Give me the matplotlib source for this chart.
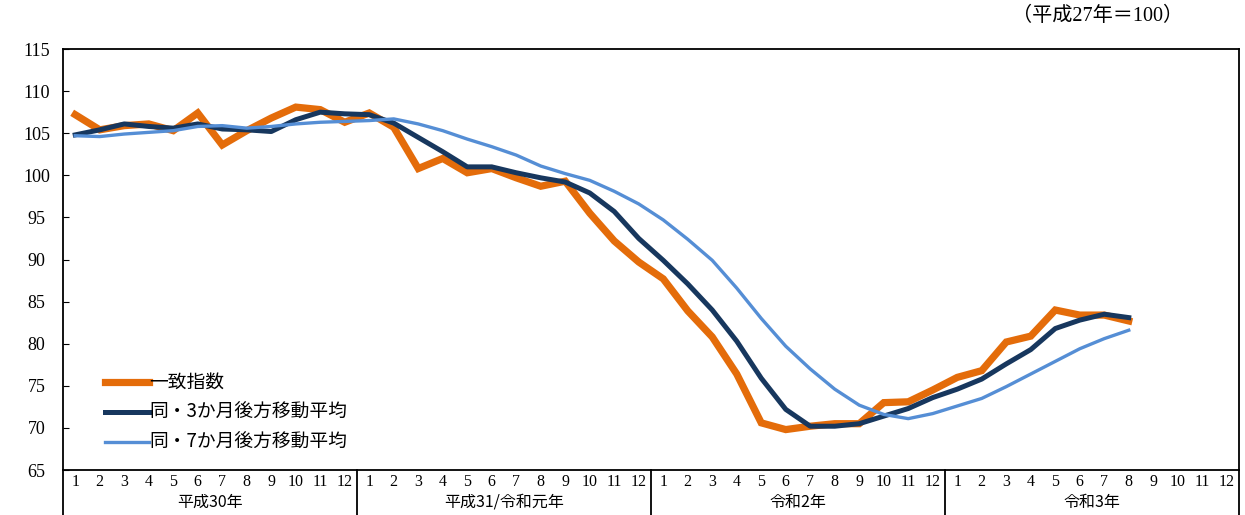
import numpy as np
import matplotlib.pyplot as plt
import matplotlib.transforms as mtransforms

plt.rcParams['font.family'] = ['Liberation Serif', 'Noto Sans CJK JP', 'DejaVu Sans']

# Months Jan 2018 (平成30年) .. Aug 2021 (令和3年)
coincident = [107.2, 105.4, 105.9, 106.1, 105.3, 107.4, 103.6, 105.3, 106.8, 108.1, 107.8, 106.3,
              107.4, 105.7, 100.8, 102.0, 100.3, 100.8, 99.7, 98.7, 99.3, 95.5, 92.2, 89.7,
              87.7, 83.9, 80.8, 76.4, 70.6, 69.8, 70.2, 70.5, 70.5, 73.0, 73.1, 74.5,
              76.0, 76.8, 80.2, 80.9, 84.0, 83.4, 83.4, 82.7]
ma3 = [104.8, 105.4, 106.1, 105.8, 105.6, 106.1, 105.5, 105.4, 105.2, 106.6, 107.5, 107.3,
       107.2, 106.2, 104.5, 102.8, 101.0, 101.0, 100.3, 99.7, 99.2, 97.9, 95.7, 92.5,
       89.9, 87.1, 84.0, 80.3, 75.9, 72.2, 70.2, 70.2, 70.5, 71.4, 72.3, 73.6,
       74.6, 75.8, 77.6, 79.3, 81.8, 82.8, 83.5, 83.1]
ma7 = [104.7, 104.6, 104.9, 105.1, 105.3, 105.8, 105.9, 105.6, 105.8, 106.1, 106.3, 106.4,
       106.5, 106.7, 106.1, 105.3, 104.3, 103.4, 102.4, 101.1, 100.2, 99.4, 98.1, 96.6,
       94.7, 92.4, 89.9, 86.6, 83.0, 79.7, 77.0, 74.6, 72.7, 71.6, 71.1, 71.7,
       72.6, 73.5, 74.9, 76.4, 77.9, 79.4, 80.6, 81.6]

years = ['平成30年', '平成31/令和元年', '令和2年', '令和3年']
months = [str(m) for m in range(1, 13)] * len(years)
series_labels = ['一致指数', '同・3か月後方移動平均', '同・7か月後方移動平均']

fig = plt.figure(figsize=(12.45, 5.15), dpi=100)
ax = fig.add_axes([63 / 1245, 45 / 515, (1239 - 63) / 1245, (470 - 49) / 515])

x = np.arange(len(coincident))
ax.plot(x, coincident, color='#E46C0A', lw=5.2, label=series_labels[0], solid_joinstyle='miter')
ax.plot(x, ma3, color='#17375E', lw=3.6, label=series_labels[1])
ax.plot(x, ma7, color='#558ED5', lw=2.4, label=series_labels[2])

ax.set_xlim(-0.5, len(months) - 0.5)
ax.set_ylim(65, 115)
ax.set_yticks(np.arange(65, 116, 5))
ax.tick_params(axis='y', direction='in', length=4, labelsize=13, pad=19)
for lab in ax.get_yticklabels():
    lab.set_horizontalalignment('center')
ax.set_xticks(np.arange(len(months)))
ax.set_xticklabels(months, fontsize=11.5)
ax.tick_params(axis='x', length=0, pad=3)
for sp in ax.spines.values():
    sp.set_linewidth(1.3)

# year labels and separators below the axis
trans = mtransforms.blended_transform_factory(ax.transData, ax.transAxes)
for k, yr in enumerate(years):
    ax.text(k * 12 + 5.5, -0.077, yr, transform=trans, ha='center', va='center',
            fontsize=11.5, family=['Noto Sans CJK JP'])
for k in range(len(years) + 1):
    ax.plot([k * 12 - 0.5, k * 12 - 0.5], [0, -0.11], transform=trans, color='black',
            lw=1.3, clip_on=False)

leg = ax.legend(loc='lower left', bbox_to_anchor=(0.021, 0.0), frameon=False,
                handlelength=2.35, handletextpad=0.05, labelspacing=0.48,
                prop={'family': ['Noto Sans CJK JP'], 'size': 13.5})

fig.text(1098 / 1245, 1 - 16 / 515, '（平成27年＝100）', ha='center', va='center',
         fontsize=14.5)

fig.savefig('out.png', dpi=100)
